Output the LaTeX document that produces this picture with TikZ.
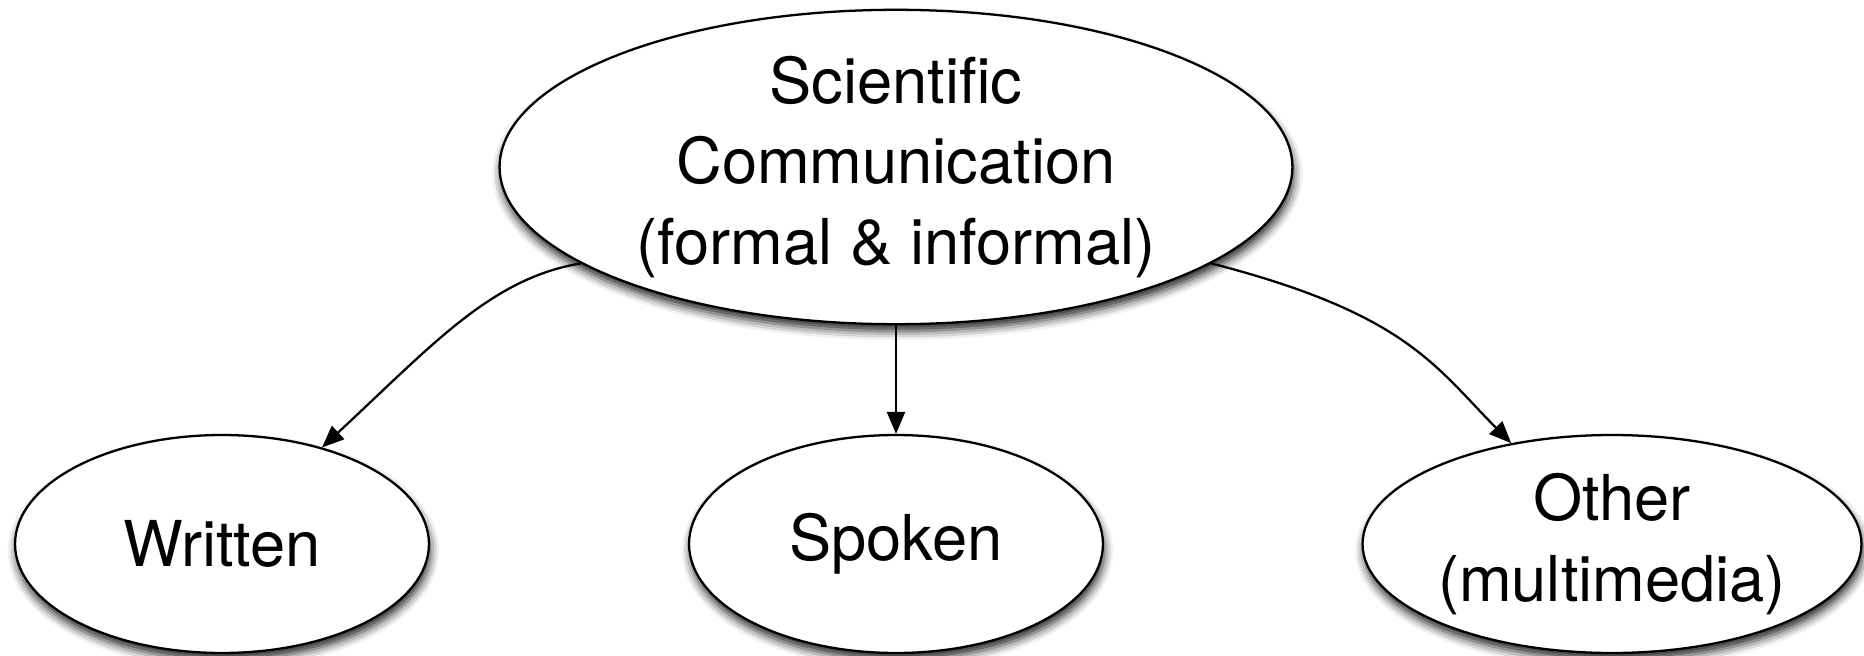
\documentclass[tikz,border=0pt]{standalone}
\usepackage{fontspec}
\setmainfont{TeX Gyre Heros}
\usetikzlibrary{shapes.geometric,shadows.blur,arrows.meta}

\begin{document}
\begin{tikzpicture}[x=0.02cm, y=-0.02cm,
  bubble/.style={ellipse, draw=black, line width=1.3pt, fill=white, inner sep=0pt,
    align=center, font=\fontsize{36pt}{46pt}\selectfont,
    blur shadow={shadow xshift=0.8pt, shadow yshift=-4pt, shadow blur radius=5pt, shadow opacity=85}},
  link/.style={line width=1.3pt, -{Triangle[length=0.44cm, width=0.36cm]}}]

\useasboundingbox (0,0) rectangle (1864,656);

\coordinate (S) at (896,167);
\coordinate (W) at (222,544);
\coordinate (P) at (896,544);
\coordinate (O) at (1612,544);


\node [bubble, minimum width=15.86cm, minimum height=6.22cm] (sci) at (S)
  {Scientific\\Communication\\(formal \& informal)};
\node [bubble, minimum width=8.28cm, minimum height=4.36cm] (written) at (W) {Written};
\node [bubble, minimum width=8.28cm, minimum height=4.36cm] (spoken) at (P) {Spoken};
\node [bubble, minimum width=9.98cm, minimum height=4.36cm] (other) at (O) {Other\\(multimedia)};


\draw [link] (sci.197) .. controls +(-90,15) and +(110,-102) .. (written.44);
\draw [link] (sci.south) -- (spoken.north);
\draw [link] (sci.-17) .. controls +(194,50) and +(-77,-78) .. (other.135);


\end{tikzpicture}
\end{document}
